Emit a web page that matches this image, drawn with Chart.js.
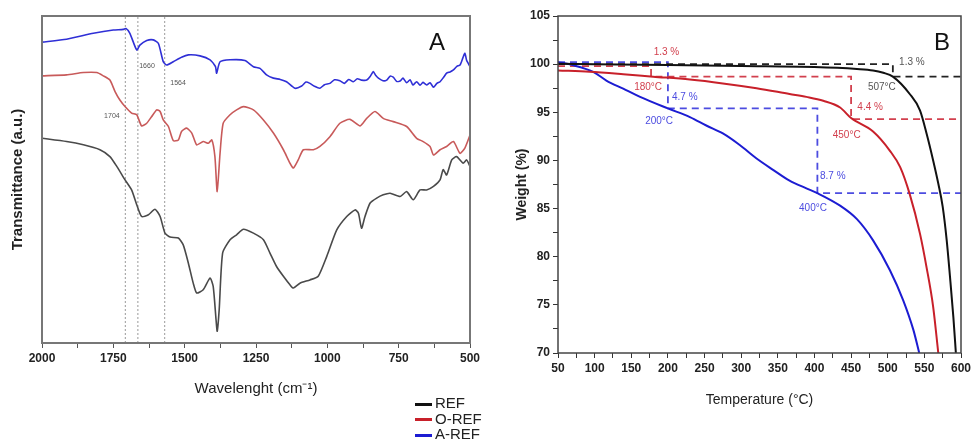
<!DOCTYPE html>
<html>
<head>
<meta charset="utf-8">
<script src="https://cdn.jsdelivr.net/npm/chart.js@4.4.0/dist/chart.umd.min.js"></script>
<style>
    body { margin: 0; background: #fff; width: 971px; height: 442px; position: relative; overflow: hidden; }
    #ftir { position: absolute; left: 0; top: 0; }
    #tga { position: absolute; left: 490px; top: 0; }
    #legend { position: absolute; left: 415px; top: 395px; font: 15px "Liberation Sans Narrow", "Liberation Sans", Arial, sans-serif; color: #222; }
    #legend div { height: 15.5px; line-height: 15.5px; white-space: nowrap; }
    #legend span { display: inline-block; width: 17px; height: 3px; margin-right: 3px; vertical-align: middle; }
</style>
</head>
<body>
<canvas id="ftir" width="480" height="442"></canvas>
<canvas id="tga" width="481" height="442"></canvas>
<div id="legend"></div>
<script>
/*global Chart, document*/
'use strict';

var FONT = '"Liberation Sans Narrow", "Liberation Sans", Arial, sans-serif';

// ------------------------------------------------------- //
// Panel A - FTIR (wavenumber, transmittance a.u.)
// ------------------------------------------------------ //
var refWave = [2000, 1914, 1855, 1797, 1762, 1738, 1709, 1686, 1668, 1651, 1627, 1604, 1586, 1569, 1551, 1522, 1505, 1487, 1470, 1458, 1435, 1411, 1400, 1390, 1386, 1379, 1367, 1341, 1318, 1294, 1259, 1224, 1201, 1178, 1154, 1131, 1119, 1096, 1061, 1032, 1002, 967, 932, 903, 891, 880, 868, 850, 827, 804, 780, 745, 722, 699, 675, 652, 628, 605, 594, 582, 564, 547, 524, 512, 500];
var refT = [62.6, 61.6, 60.6, 59.1, 57.0, 54.0, 49.9, 46.8, 42.3, 38.7, 39.2, 40.9, 38.7, 33.6, 32.4, 32.1, 30.0, 24.4, 18.3, 15.3, 16.3, 19.9, 17.3, 7.1, 3.6, 10.2, 27.5, 31.6, 33.1, 34.8, 33.6, 31.6, 27.5, 23.4, 20.4, 17.8, 16.8, 18.3, 19.3, 20.4, 26.5, 34.6, 38.7, 40.7, 39.7, 35.1, 38.7, 42.8, 44.3, 45.3, 45.8, 44.8, 46.3, 43.8, 46.8, 46.8, 47.9, 49.9, 53.0, 51.4, 56.0, 57.0, 55.0, 56.0, 54.0];

var orefWave = [2000, 1914, 1855, 1808, 1785, 1762, 1744, 1727, 1709, 1686, 1668, 1651, 1633, 1616, 1598, 1586, 1575, 1557, 1540, 1522, 1511, 1493, 1475, 1458, 1435, 1417, 1405, 1394, 1386, 1376, 1365, 1341, 1318, 1294, 1259, 1224, 1189, 1154, 1131, 1119, 1102, 1084, 1049, 1026, 991, 956, 921, 885, 862, 833, 804, 769, 722, 687, 664, 640, 628, 605, 582, 558, 535, 518, 500];
var orefT = [81.7, 82.0, 82.7, 82.7, 81.7, 80.4, 76.9, 74.3, 72.3, 70.3, 69.8, 66.4, 67.2, 69.2, 71.3, 70.8, 68.2, 66.2, 61.9, 62.1, 64.7, 65.7, 64.2, 60.6, 61.6, 61.1, 62.1, 57.0, 46.3, 58.0, 67.2, 69.8, 71.3, 72.3, 71.3, 68.2, 64.2, 59.1, 55.0, 53.5, 56.0, 59.1, 59.1, 60.1, 63.1, 67.2, 68.4, 66.4, 68.7, 70.8, 68.7, 67.7, 66.2, 62.6, 61.6, 60.1, 57.5, 59.1, 60.1, 61.6, 58.0, 59.6, 63.6];

var arefWave = [2000, 1914, 1820, 1750, 1715, 1706, 1692, 1668, 1657, 1633, 1610, 1592, 1575, 1563, 1540, 1511, 1487, 1446, 1411, 1392, 1388, 1376, 1341, 1289, 1259, 1236, 1213, 1189, 1165, 1143, 1113, 1090, 1075, 1061, 1045, 1026, 1010, 991, 975, 956, 940, 925, 909, 895, 880, 862, 850, 839, 830, 821, 805, 792, 780, 769, 757, 745, 735, 722, 710, 700, 687, 675, 665, 652, 640, 628, 616, 605, 593, 582, 570, 558, 546, 535, 525, 518, 512, 506, 500];
var arefT = [92.0, 92.9, 94.7, 95.7, 95.9, 96.2, 94.7, 89.6, 91.1, 92.5, 92.7, 91.6, 86.0, 85.0, 86.0, 87.4, 88.1, 87.8, 86.6, 84.5, 82.5, 86.0, 86.6, 86.4, 84.5, 84.0, 82.0, 81.0, 80.6, 79.9, 77.9, 78.6, 79.8, 79.4, 78.5, 77.9, 79.0, 79.4, 80.5, 80.2, 79.4, 80.6, 79.9, 80.8, 80.4, 80.4, 81.5, 83.0, 81.8, 81.0, 80.2, 80.4, 81.6, 81.3, 80.0, 80.1, 81.0, 79.6, 80.5, 78.9, 79.9, 78.8, 79.7, 78.9, 79.6, 78.2, 79.4, 79.9, 81.2, 82.5, 82.9, 83.5, 84.6, 85.0, 87.2, 88.6, 86.5, 85.5, 84.5];

// marker lines at 1704, 1660 and 1564 cm-1 (as drawn)
var markerWave = [1708, 1664, 1570];

// ------------------------------------------------------- //
// Panel B - TGA (temperature, weight %)
// ------------------------------------------------------ //
var refTemp = [50, 100, 200, 300, 400, 458, 480, 494, 507, 530, 544, 553, 562, 569, 575, 580.5, 585, 589.6, 593];
var refWeight = [100.05, 100.0, 99.9, 99.8, 99.7, 99.5, 99.35, 99.1, 98.7, 96.9, 95.2, 92.8, 90.0, 87.6, 85.2, 81.7, 77.9, 73.7, 70.0];

var orefTemp = [50, 93, 139, 180, 230, 275, 321, 366, 389, 412, 435, 450, 480, 503, 517, 530, 544, 553, 562, 569];
var orefWeight = [99.35, 99.2, 98.95, 98.7, 98.4, 98.0, 97.5, 96.9, 96.6, 96.2, 95.5, 94.4, 93.0, 91.0, 89.3, 86.5, 82.4, 78.9, 74.8, 70.0];

var arefTemp = [50, 70, 98, 116, 139, 162, 200, 230, 253, 275, 298, 321, 344, 366, 389, 404, 435, 458, 480, 503, 521, 535, 543];
var arefWeight = [100.2, 99.9, 99.2, 98.3, 97.45, 96.6, 95.4, 94.5, 93.6, 92.8, 91.6, 90.2, 89.0, 87.9, 87.1, 86.6, 85.3, 83.9, 81.7, 78.6, 75.5, 72.4, 70.0];

// onset construction lines
var refGuideTemp = [50, 507, 507, 600];
var refGuideWeight = [100, 100, 98.7, 98.7];
var orefGuideTemp = [50, 177, 177, 450, 450, 600];
var orefGuideWeight = [99.8, 99.8, 98.7, 98.7, 94.3, 94.3];
var arefGuideTemp = [50, 200, 200, 404, 404, 600];
var arefGuideWeight = [100.2, 100.2, 95.4, 95.4, 86.6, 86.6];

var seriesNames = ['REF', 'O-REF', 'A-REF'];

// Main colours
var ftirColors = ['#4a4a4a', '#c85a5a', '#2f2fd6'];
var tgaColors = ['#111111', '#c8202a', '#1c1cd2'];
var guideColors = ['#222222', '#d2404e', '#4c4ce0'];

function points(xs, ys) {
    return xs.map(function (x, i) { return {x: x, y: ys[i]}; });
}

// frame round the plot area + free text at data coordinates
function overlay(notes, frameColor, frameWidth) {
    return {
        id: 'overlay',
        afterDatasetsDraw: function (chart) {
            var ctx = chart.ctx, a = chart.chartArea;
            ctx.save();
            ctx.strokeStyle = frameColor;
            ctx.lineWidth = frameWidth;
            ctx.strokeRect(a.left, a.top, a.right - a.left, a.bottom - a.top);
            ctx.textAlign = 'center';
            ctx.textBaseline = 'middle';
            notes.forEach(function (n) {
                ctx.font = n.font;
                ctx.fillStyle = n.color;
                ctx.fillText(n.text, chart.scales.x.getPixelForValue(n.x), chart.scales.y.getPixelForValue(n.y));
            });
            ctx.restore();
        }
    };
}

// the end labels may overhang the plot edges
function fixBottom(h) {
    return function (s) {
        s.height = h;
        s.paddingLeft = 0;
        s.paddingRight = 0;
    };
}

// ------------------------------------------------------- //
// Chart A
// ------------------------------------------------------ //
var ftirSets = [
    points(refWave, refT), points(orefWave, orefT), points(arefWave, arefT)
].map(function (d, i) {
    return {label: seriesNames[i], data: d, borderColor: ftirColors[i], borderWidth: 1.6, pointRadius: 0, tension: 0.2};
});
markerWave.forEach(function (w) {
    ftirSets.push({label: '', data: [{x: w, y: 0}, {x: w, y: 100}], borderColor: '#9a9a9a', borderWidth: 1, borderDash: [2, 2], pointRadius: 0});
});

var ftirNotes = [
    {text: '1704', x: 1755, y: 69.4, font: '7px ' + FONT, color: '#555'},
    {text: '1660', x: 1632, y: 84.7, font: '7px ' + FONT, color: '#555'},
    {text: '1564', x: 1523, y: 79.5, font: '7px ' + FONT, color: '#555'},
    {text: 'A', x: 616, y: 91.7, font: '24px "Liberation Sans", Arial, sans-serif', color: '#111'}
];

new Chart(document.getElementById('ftir'), {
    type: 'line',
    data: {datasets: ftirSets},
    plugins: [overlay(ftirNotes, '#777', 2)],
    options: {
        responsive: false,
        animation: false,
        layout: {padding: {top: 16, right: 10, left: 0, bottom: 0}},
        plugins: {legend: {display: false}, tooltip: {enabled: false}},
        scales: {
            x: {
                type: 'linear', reverse: true, min: 500, max: 2000,
                border: {display: false},
                grid: {drawOnChartArea: false, tickLength: 5, color: '#555'},
                ticks: {
                    stepSize: 125, autoSkip: false, maxRotation: 0, padding: 3, color: '#222',
                    font: {family: FONT, size: 12, weight: 'bold'},
                    callback: function (v) { return v % 250 === 0 ? v : ''; }
                },
                title: {display: true, text: 'Wavelenght (cm\u207B\u00B9)', color: '#222', font: {family: FONT, size: 15}, padding: {bottom: 44}},
                afterFit: fixBottom(99)
            },
            y: {
                type: 'linear', min: 0, max: 100,
                border: {display: false},
                grid: {display: false},
                ticks: {display: false},
                title: {display: true, text: 'Transmittance (a.u.)', color: '#222', font: {family: FONT, size: 15, weight: 'bold'}, padding: {top: 9}},
                afterFit: function (s) { s.width = 42; }
            }
        }
    }
});

// ------------------------------------------------------- //
// Chart B
// ------------------------------------------------------ //
var tgaSets = [
    points(refTemp, refWeight), points(orefTemp, orefWeight), points(arefTemp, arefWeight)
].map(function (d, i) {
    return {label: seriesNames[i], data: d, borderColor: tgaColors[i], borderWidth: 2, pointRadius: 0, cubicInterpolationMode: 'monotone'};
});
[
    points(refGuideTemp, refGuideWeight), points(orefGuideTemp, orefGuideWeight), points(arefGuideTemp, arefGuideWeight)
].forEach(function (d, i) {
    tgaSets.push({label: '', data: d, borderColor: guideColors[i], borderWidth: 1.8, borderDash: [7, 5], pointRadius: 0});
});

var small = '10px ' + FONT;
var tgaNotes = [
    {text: '1.3 %', x: 198, y: 101.2, font: small, color: guideColors[1]},
    {text: '180\u00B0C', x: 173, y: 97.6, font: small, color: guideColors[1]},
    {text: '4.7 %', x: 223, y: 96.6, font: small, color: guideColors[2]},
    {text: '200\u00B0C', x: 188, y: 94.1, font: small, color: guideColors[2]},
    {text: '1.3 %', x: 533, y: 100.15, font: small, color: '#555'},
    {text: '507\u00B0C', x: 492, y: 97.6, font: small, color: '#555'},
    {text: '4.4 %', x: 476, y: 95.55, font: small, color: guideColors[1]},
    {text: '450\u00B0C', x: 444, y: 92.6, font: small, color: guideColors[1]},
    {text: '8.7 %', x: 425, y: 88.4, font: small, color: guideColors[2]},
    {text: '400\u00B0C', x: 398, y: 85.0, font: small, color: guideColors[2]},
    {text: 'B', x: 574, y: 102.2, font: '24px "Liberation Sans", Arial, sans-serif', color: '#111'}
];

new Chart(document.getElementById('tga'), {
    type: 'line',
    data: {datasets: tgaSets},
    plugins: [overlay(tgaNotes, '#444', 1.5)],
    options: {
        responsive: false,
        animation: false,
        layout: {padding: {top: 16, right: 10, left: 0, bottom: 0}},
        plugins: {legend: {display: false}, tooltip: {enabled: false}},
        scales: {
            x: {
                type: 'linear', min: 50, max: 600,
                border: {display: false},
                grid: {drawOnChartArea: false, tickLength: 5, color: '#333'},
                ticks: {
                    stepSize: 25, autoSkip: false, maxRotation: 0, padding: 3, color: '#222',
                    font: {family: FONT, size: 12, weight: 'bold'},
                    callback: function (v) { return v % 50 === 0 ? v : ''; }
                },
                title: {display: true, text: 'Temperature (\u00B0C)', color: '#222', font: {family: FONT, size: 14}, padding: {bottom: 33}},
                afterFit: fixBottom(89)
            },
            y: {
                type: 'linear', min: 70, max: 105,
                border: {display: false},
                grid: {drawOnChartArea: false, tickLength: 5, color: '#333'},
                ticks: {
                    stepSize: 2.5, autoSkip: false, padding: 3, color: '#222',
                    font: {family: FONT, size: 12, weight: 'bold'},
                    callback: function (v) { return v % 5 === 0 ? v : ''; }
                },
                title: {display: true, text: 'Weight (%)', color: '#222', font: {family: FONT, size: 14, weight: 'bold'}, padding: {top: 24}},
                afterFit: function (s) { s.width = 68; }
            }
        }
    }
});

// shared legend below the panels
var legend = document.getElementById('legend');
seriesNames.forEach(function (name, i) {
    var row = document.createElement('div');
    var sw = document.createElement('span');
    sw.style.background = tgaColors[i];
    row.appendChild(sw);
    row.appendChild(document.createTextNode(name));
    legend.appendChild(row);
});
</script>
</body>
</html>
